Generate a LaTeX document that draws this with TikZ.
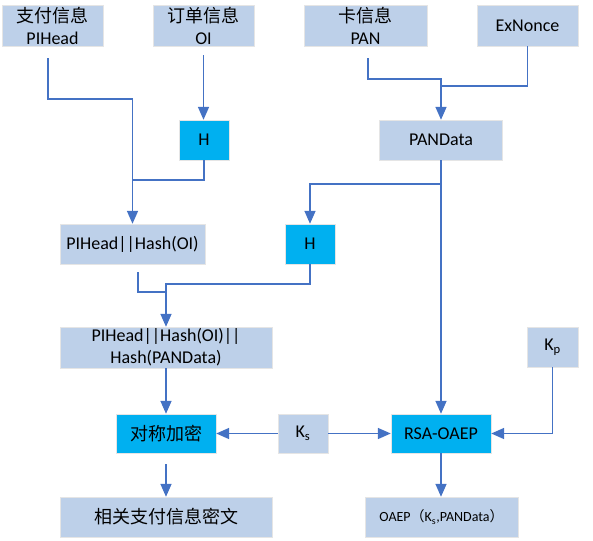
\documentclass[tikz,border=0pt]{standalone}
\usepackage{fontspec}
\setmainfont{Carlito}
\newfontfamily\cjk{Noto Sans CJK SC}
\usetikzlibrary{arrows.meta}
\definecolor{boxblue}{HTML}{BDD0E9}
\definecolor{funcblue}{HTML}{00B0F0}
\definecolor{linkblue}{HTML}{4472C4}
\tikzstyle{info}=[draw=gray!20, fill=boxblue, inner sep=0pt, align=center, font=\fontsize{18}{22}\selectfont]
\tikzstyle{func}=[info, fill=funcblue]
\tikzstyle{wire}=[draw=linkblue, line width=1.6pt]
\tikzstyle{link}=[wire, -{Triangle[length=13pt,width=11pt]}]
\newcommand{\infobox}{\node[info]}
\newcommand{\funcbox}{\node[func]}

\begin{document}
\begin{tikzpicture}[x=1pt, y=-1pt]
\useasboundingbox (0,0) rectangle (593,540);
% inputs
\infobox (pihead) at (52.5,25.5)[minimum width=101pt, minimum height=41pt]{{\cjk 支付信息}\\PIHead};
\infobox (oi) at (203.5,25.5)[minimum width=101pt, minimum height=41pt]{{\cjk 订单信息}\\OI};
\infobox (pan) at (365.5,25.5)[minimum width=123pt, minimum height=41pt]{{\cjk 卡信息}\\PAN};
\infobox (exn) at (527.5,25.5)[minimum width=101pt, minimum height=41pt]{ExNonce};
% hashing
\funcbox (h1) at (204,140)[minimum width=50pt, minimum height=40pt]{H};
\infobox (pandata) at (441,140)[minimum width=123pt, minimum height=40pt]{PANData};
\infobox (pihh) at (132.5,244)[minimum width=145pt, minimum height=40pt]{PIHead||Hash(OI)};
\funcbox (h2) at (310,244)[minimum width=50pt, minimum height=40pt]{H};
\infobox (pihh2) at (166,347.5)[minimum width=212pt, minimum height=41pt]{PIHead||Hash(OI)||\\Hash(PANData)};
\infobox (kp) at (552.5,347)[minimum width=51pt, minimum height=40pt]{K\textsubscript{p}};
% encryption
\funcbox (sym) at (166,433.5)[minimum width=100pt, minimum height=39pt]{\cjk 对称加密};
\infobox (ks) at (303,433.5)[minimum width=50pt, minimum height=39pt]{K\textsubscript{s}};
\funcbox (rsa) at (441,433.5)[minimum width=100pt, minimum height=39pt]{RSA-OAEP};
\infobox (res) at (166,517)[minimum width=212pt, minimum height=40pt]{\cjk 相关支付信息密文};
\infobox (oaep) at (441.5,517)[minimum width=153pt, minimum height=40pt, font=\fontsize{14}{16}\selectfont]{OAEP{\cjk （}K\textsubscript{s},PANData{\cjk ）}};
% junctions
\coordinate (j1) at (132.5,180);
\coordinate (j2) at (166,292);
\coordinate (j3) at (441,86);
\coordinate (j4) at (441,184);
% connectors
\draw[link, shorten <=12pt] ([xshift=-4.5pt]pihead.south) -- ++(0,53) -| (pihh.north);
\draw[link, shorten <=9pt] (oi.south) -- (oi.south |- h1.north);
\draw[wire] (h1.south) |- (j1);
\draw[wire, shorten <=8pt] ([xshift=5.5pt]pihh.south) |- (j2);
\draw[link] (h2.south) -- ++(0,20) -| (pihh2.north);
\draw[link, shorten <=12pt] ([xshift=2.5pt]pan.south) -- ++(0,33) -| (pandata.north);
\draw[wire] (exn.south) |- (j3);
\draw[link] (pandata.south) -- (rsa.north);
\draw[link] (j4) -| (h2.north);
\draw[link] (pihh2.south) -- (sym.north);
\draw[link, shorten <=11pt] (sym.south) -- (res.north);
\draw[link] (ks.west) -- (sym.east);
\draw[link] (ks.east) -- (rsa.west);
\draw[link] (kp.south) |- (rsa.east);
\draw[link] (rsa.south) -- (rsa.south |- oaep.north);
\end{tikzpicture}
\end{document}
